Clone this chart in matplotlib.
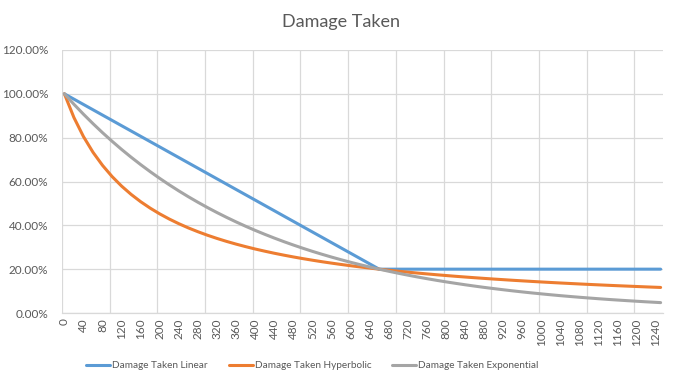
import matplotlib.pyplot as plt
from matplotlib.ticker import FixedLocator, FuncFormatter

plt.rcParams['font.family'] = ['Lato', 'DejaVu Sans']

# x categories (damage reduction stat), y in percent of damage taken
x_vals = [0, 20, 40, 60, 80, 100, 120, 140, 160, 180, 200, 220, 240, 260, 280, 300,
          320, 340, 360, 380, 400, 420, 440, 460, 480, 500, 520, 540, 560, 580, 600,
          620, 640, 660, 680, 700, 720, 740, 760, 780, 800, 820, 840, 860, 880, 900,
          920, 940, 960, 980, 1000, 1020, 1040, 1060, 1080, 1100, 1120, 1140, 1160,
          1180, 1200, 1220, 1240, 1250]

linear = [100.0, 97.58, 95.15, 92.73, 90.30, 87.88, 85.45, 83.03, 80.61, 78.18, 75.76,
          73.33, 70.91, 68.48, 66.06, 63.64, 61.21, 58.79, 56.36, 53.94, 51.52, 49.09,
          46.67, 44.24, 41.82, 39.39, 36.97, 34.55, 32.12, 29.70, 27.27, 24.85, 22.42,
          20.0, 20.0, 20.0, 20.0, 20.0, 20.0, 20.0, 20.0, 20.0, 20.0, 20.0, 20.0, 20.0,
          20.0, 20.0, 20.0, 20.0, 20.0, 20.0, 20.0, 20.0, 20.0, 20.0, 20.0, 20.0, 20.0,
          20.0, 20.0, 20.0, 20.0, 20.0]

hyperbolic = [100.0, 89.19, 80.49, 73.33, 67.35, 62.26, 57.89, 54.10, 50.77, 47.83, 45.21,
              42.86, 40.74, 38.82, 37.08, 35.48, 34.02, 32.67, 31.43, 30.28, 29.20, 28.21,
              27.27, 26.40, 25.58, 24.81, 24.09, 23.40, 22.76, 22.15, 21.57, 21.02, 20.50,
              20.00, 19.53, 19.08, 18.64, 18.23, 17.84, 17.46, 17.10, 16.75, 16.42, 16.10,
              15.79, 15.49, 15.21, 14.93, 14.67, 14.41, 14.16, 13.92, 13.69, 13.47, 13.25,
              13.04, 12.84, 12.64, 12.45, 12.27, 12.09, 11.91, 11.74, 11.66]

exponential = [100.0, 95.24, 90.70, 86.39, 82.27, 78.36, 74.62, 71.07, 67.69, 64.47, 61.40,
               58.48, 55.69, 53.04, 50.52, 48.11, 45.82, 43.64, 41.56, 39.58, 37.70, 35.91,
               34.20, 32.57, 31.02, 29.54, 28.13, 26.80, 25.52, 24.31, 23.15, 22.05, 21.00,
               20.00, 19.05, 18.14, 17.28, 16.45, 15.67, 14.92, 14.21, 13.54, 12.89, 12.28,
               11.69, 11.14, 10.61, 10.10, 9.62, 9.16, 8.73, 8.31, 7.91, 7.54, 7.18, 6.84,
               6.51, 6.20, 5.91, 5.63, 5.36, 5.10, 4.86, 4.74]

x_labels = list(range(0, 1241, 40))
y_ticks = [0, 20, 40, 60, 80, 100, 120]

series_names = ['Damage Taken Linear', 'Damage Taken Hyperbolic', 'Damage Taken Exponential']
colors = ['#5B9BD5', '#ED7D31', '#A5A5A5']
text_col = '#595959'
grid_col = '#D9D9D9'

fig = plt.figure(figsize=(6.81, 3.86), dpi=100)
ax = fig.add_axes([62/681, 1 - 313/386, (663 - 62)/681, (313 - 50)/386])

for ys, name, c in zip([linear, hyperbolic, exponential], series_names, colors):
    ax.plot(x_vals, ys, color=c, lw=2.2, label=name, solid_capstyle='round')

ax.set_xlim(-5, 1255)
ax.set_ylim(0, 120)

ax.set_xticks(x_labels)
ax.set_xticklabels([str(v) for v in x_labels], rotation=90, fontsize=8.5, color=text_col)
ax.xaxis.set_minor_locator(FixedLocator([-5 + 100 * k for k in range(13)]))
ax.tick_params(axis='x', which='both', length=0, pad=4)
ax.grid(axis='x', which='minor', color=grid_col, lw=0.9)

ax.set_yticks(y_ticks)
ax.yaxis.set_major_formatter(FuncFormatter(lambda v, p: '%.2f%%' % v))
ax.tick_params(axis='y', length=0, pad=10, labelsize=8.5, labelcolor=text_col)
ax.grid(axis='y', which='major', color=grid_col, lw=0.9)
ax.set_axisbelow(True)

for s in ['top', 'right', 'left']:
    ax.spines[s].set_visible(False)
ax.spines['bottom'].set_color(grid_col)
ax.spines['bottom'].set_linewidth(0.9)

fig.text(340.5/681, 1 - 22/386, 'Damage Taken', ha='center', va='center',
         fontsize=13, color=text_col)

fig.legend(loc='center left', bbox_to_anchor=(86/681, 1 - 366/386), ncol=3,
           frameon=False, fontsize=7.2, labelcolor=text_col, handlelength=2.4,
           handletextpad=0.2, columnspacing=2.1, borderaxespad=0, borderpad=0)

fig.savefig('out.png', dpi=100)
